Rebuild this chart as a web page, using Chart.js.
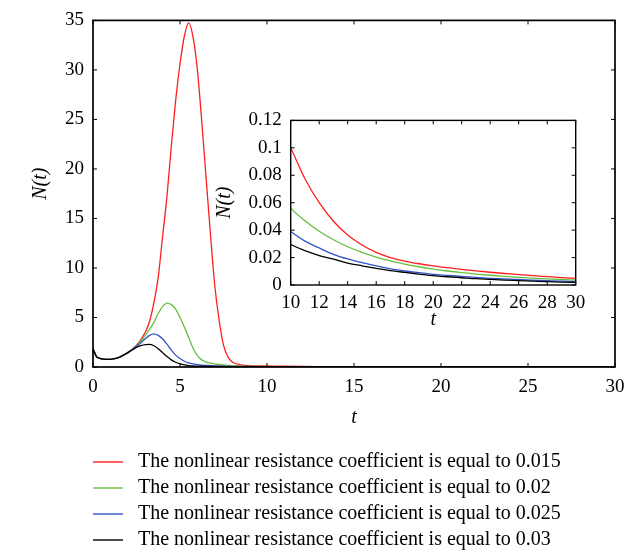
<!DOCTYPE html>
<html>
<head>
<meta charset="utf-8">
<script src="https://cdn.jsdelivr.net/npm/chart.js@4.4.1/dist/chart.umd.min.js"></script>
<style>
  html, body { margin: 0; padding: 0; background: #fff; }
  #wrap { position: relative; width: 637px; height: 555px; }
  #main { position: absolute; left: 0; top: 0; }
  #inset { position: absolute; left: 200px; top: 100px; }
</style>
</head>
<body>
<div id="wrap">
  <canvas id="main" width="637" height="555"></canvas>
  <canvas id="inset" width="400" height="235"></canvas>
</div>
<script>
// time points shared by every curve
const tGrid = [0, 0.2, 0.4, 0.6, 0.8, 1, 1.25, 1.5, 1.75, 2,
  2.25, 2.5, 2.75, 3, 3.25, 3.5, 3.75, 4, 4.25, 4.5, 4.75, 5, 5.25, 5.5, 5.75, 6,
  6.25, 6.5, 6.75, 7, 7.25, 7.5, 7.75, 8, 8.5, 9,
  10, 11, 12, 13, 14, 15, 16, 17, 18, 19, 20, 21, 22, 23, 24, 25, 26, 27, 28, 29, 30];

// N(t) for each nonlinear resistance coefficient
const n015 = [1.85, 1.05, 0.88, 0.8, 0.77, 0.78, 0.84, 0.98, 1.2, 1.45,
  1.8, 2.2, 2.75, 3.5, 4.6, 6.5, 9.1, 13.2, 17.2, 22.3, 26.9, 30.6, 33.4, 34.75, 33.3, 30.0,
  24.8, 19.1, 13.4, 8.2, 4.7, 2.2, 1.05, 0.5, 0.22, 0.13,
  0.1, 0.0775, 0.06, 0.0465, 0.0365, 0.0292, 0.0238, 0.02, 0.0174, 0.0155, 0.014, 0.0126, 0.0114,
  0.0103, 0.0093, 0.0084, 0.0076, 0.0068, 0.0061, 0.0054, 0.0048];
const n020 = [1.85, 1.05, 0.88, 0.8, 0.77, 0.78, 0.84, 0.98, 1.2, 1.45,
  1.76, 2.15, 2.6, 3.2, 3.8, 4.5, 5.4, 6.1, 6.45, 6.3, 5.85, 5.0, 4.05, 3.0, 1.9, 1.15,
  0.72, 0.5, 0.38, 0.31, 0.26, 0.21, 0.17, 0.13, 0.095, 0.07,
  0.056, 0.0468, 0.0392, 0.033, 0.0279, 0.0238, 0.0204, 0.0176, 0.0153, 0.0133, 0.0116, 0.0102, 0.009,
  0.008, 0.0071, 0.0063, 0.0056, 0.005, 0.0045, 0.004, 0.0036];
const n025 = [1.85, 1.05, 0.88, 0.8, 0.77, 0.78, 0.84, 0.98, 1.2, 1.45,
  1.74, 2.1, 2.45, 2.85, 3.2, 3.35, 3.2, 2.85, 2.3, 1.72, 1.2, 0.85, 0.58, 0.42, 0.31, 0.24,
  0.19, 0.16, 0.13, 0.11, 0.095, 0.085, 0.075, 0.066, 0.056, 0.047,
  0.039, 0.032, 0.027, 0.0224, 0.019, 0.0163, 0.014, 0.0118, 0.0102, 0.009, 0.0078, 0.007, 0.0062,
  0.0055, 0.0049, 0.0044, 0.004, 0.0036, 0.0032, 0.0028, 0.0025];
const n030 = [1.85, 1.05, 0.88, 0.8, 0.77, 0.78, 0.84, 0.98, 1.2, 1.45,
  1.72, 1.98, 2.15, 2.26, 2.28, 2.15, 1.85, 1.45, 1.05, 0.72, 0.48, 0.32, 0.21, 0.14, 0.1, 0.085,
  0.075, 0.068, 0.062, 0.057, 0.053, 0.049, 0.046, 0.043, 0.039, 0.035,
  0.0295, 0.025, 0.0215, 0.0188, 0.016, 0.014, 0.0122, 0.0105, 0.0092, 0.008, 0.0068, 0.006, 0.0053,
  0.0046, 0.0041, 0.0036, 0.0032, 0.0028, 0.0024, 0.0021, 0.0019];

const coefficients = ['0.015', '0.02', '0.025', '0.03'];
const series = [n015, n020, n025, n030];
const colors = ['rgb(255,30,30)', 'rgb(100,192,64)', 'rgb(50,84,200)', '#000000'];

const serif = "'Liberation Serif', 'Times New Roman', serif";
Chart.defaults.font.family = serif;
Chart.defaults.color = '#000';

// legend sample: a short line drawn left of the item box
function swatch(color) {
  const c = document.createElement('canvas');
  c.width = 43; c.height = 4;
  const g = c.getContext('2d');
  g.fillStyle = color;
  g.fillRect(0, 1.3, 31, 1.4);
  return c;
}
const swatches = colors.map(swatch);

function makeDatasets() {
  return series.map((vals, i) => ({
    label: 'The nonlinear resistance coefficient is equal to ' + coefficients[i],
    data: vals.map((v, k) => ({x: tGrid[k], y: v})),
    borderColor: colors[i],
    backgroundColor: colors[i],
    borderWidth: 1.3,
    pointRadius: 0,
    pointStyle: swatches[i],
    cubicInterpolationMode: 'monotone',
    order: series.length - i
  }));
}

// box around the plot with inward ticks on all four sides
const framePlugin = {
  id: 'frame',
  afterDatasetsDraw(chart, args, opts) {
    const {ctx, chartArea: a} = chart;
    const xs = chart.scales.x, ys = chart.scales.y;
    ctx.save();
    ctx.strokeStyle = '#000';
    ctx.lineWidth = 1;
    ctx.beginPath();
    xs.ticks.forEach(tk => {
      const px = xs.getPixelForValue(tk.value);
      ctx.moveTo(px, a.bottom); ctx.lineTo(px, a.bottom - opts.tick);
      ctx.moveTo(px, a.top); ctx.lineTo(px, a.top + opts.tick);
    });
    ys.ticks.forEach(tk => {
      const py = ys.getPixelForValue(tk.value);
      ctx.moveTo(a.left, py); ctx.lineTo(a.left + opts.tick, py);
      ctx.moveTo(a.right, py); ctx.lineTo(a.right - opts.tick, py);
    });
    ctx.stroke();
    ctx.lineWidth = opts.width;
    ctx.strokeRect(a.left, a.top, a.right - a.left, a.bottom - a.top);
    ctx.restore();
  }
};

const tickFont = {family: serif, size: 19};
const titleFont = {family: serif, size: 20, style: 'italic'};

// main chart
new Chart(document.getElementById('main'), {
  type: 'line',
  data: {datasets: makeDatasets()},
  plugins: [framePlugin],
  options: {
    responsive: false,
    animation: false,
    layout: {padding: {top: 16, right: 22, bottom: -5, left: 0}},
    scales: {
      x: {
        type: 'linear', min: 0, max: 30,
        ticks: {stepSize: 5, padding: 9, font: tickFont, maxRotation: 0},
        grid: {display: false, drawTicks: false},
        border: {display: false},
        title: {display: true, text: 't', font: titleFont, padding: {top: 0, bottom: 16}},
        afterFit: s => { s.height = 79; }
      },
      y: {
        type: 'linear', min: 0, max: 35,
        ticks: {stepSize: 5, padding: 9, font: tickFont},
        grid: {display: false, drawTicks: false},
        border: {display: false},
        title: {display: true, text: '    N(t)', font: titleFont, padding: {top: 29, bottom: 0}},
        afterFit: s => { s.width = 93; }
      }
    },
    plugins: {
      frame: {width: 1.7, tick: 4},
      tooltip: {enabled: false},
      legend: {
        position: 'bottom',
        align: 'start',
        fullSize: false,
        labels: {
          usePointStyle: true,
          pointStyleWidth: 29,
          padding: 6,
          font: {family: serif, size: 20},
          sort: (a, b) => a.datasetIndex - b.datasetIndex
        }
      }
    }
  }
});

// inset: tail of the curves from t = 10 to 30
new Chart(document.getElementById('inset'), {
  type: 'line',
  data: {datasets: makeDatasets()},
  plugins: [framePlugin],
  options: {
    responsive: false,
    animation: false,
    layout: {padding: {top: 15, right: 24.3, bottom: 0, left: 0}},
    scales: {
      x: {
        type: 'linear', min: 10, max: 30,
        ticks: {stepSize: 2, padding: 7, font: tickFont, maxRotation: 0},
        grid: {display: false, drawTicks: false},
        border: {display: false},
        title: {display: true, text: 't', font: titleFont, padding: {top: 0, bottom: 3}},
        afterFit: s => { s.height = 50; }
      },
      y: {
        type: 'linear', min: 0, max: 0.12,
        ticks: {stepSize: 0.02, padding: 9, font: tickFont, callback: v => String(+v.toFixed(2))},
        grid: {display: false, drawTicks: false},
        border: {display: false},
        title: {display: true, text: 'N(t)', font: titleFont, padding: {top: 13, bottom: 0}},
        afterFit: s => { s.width = 90.7; }
      }
    },
    plugins: {
      frame: {width: 1.4, tick: 4},
      tooltip: {enabled: false},
      legend: {display: false}
    }
  }
});
</script>
</body>
</html>
